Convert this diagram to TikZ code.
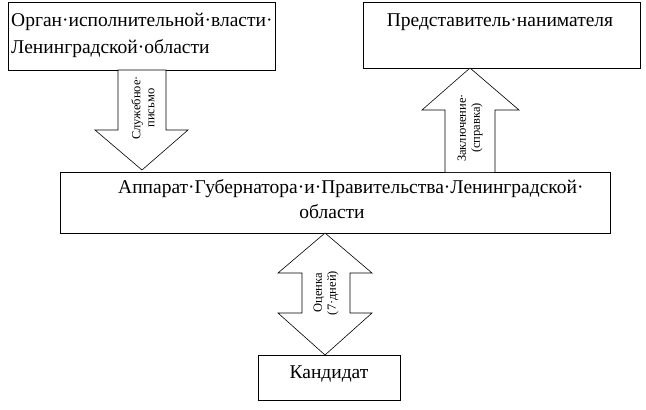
\documentclass[tikz,border=0pt]{standalone}
\usepackage{fontspec}
\setmainfont{Liberation Serif}
\begin{document}
\begin{tikzpicture}[x=1pt,y=-1pt,
  box/.style={draw,line width=1pt},
  arr/.style={draw,line width=0.6pt,fill=white},
  big/.style={font=\fontsize{19.5}{27}\selectfont,inner sep=0},
  small/.style={font=\fontsize{12.5}{14}\selectfont,rotate=90,align=center,inner sep=0}]
\useasboundingbox (0,0) rectangle (646,410);
\draw[box] (8,2) rectangle (275,70) coordinate (b1);
\node[big,anchor=west] (t1) at (11,22) {Орган·исполнительной·власти·};
\node[big,anchor=west] (t1b) at (11,49) {Ленинградской·области};
\draw[box] (363,2) rectangle (640,68);
\node[big] (t2) at (500,22) {Представитель·нанимателя};
\draw[box] (60,172) rectangle (610,233);
\node[big,anchor=west] (t3a) at (118,189) {Аппарат·Губернатора·и·Правительства·Ленинградской·};
\node[big] (t3b) at (332,212) {области};
\draw[box] (258,355) rectangle (400,400);
\node[big] (t4) at (329,374) {Кандидат};
% down arrow
\draw[arr] (118,70) -- (166,70) -- (166,130) -- (188,130) -- (142,170) -- (95,130) -- (118,130) -- cycle;
\node[small] (l1) at (143,108) {Служебное·\\письмо};
% up arrow
\draw[arr] (445,172) -- (445,110) -- (422,110) -- (470,68) -- (519,110) -- (495,110) -- (495,172);
\node[small] (l2) at (470,128) {Заключение·\\(справка)};
% double arrow
\draw[arr] (325,233) -- (372,273) -- (350,273) -- (350,313) -- (372,313) -- (325,355) -- (278,313) -- (302,313) -- (302,273) -- (278,273) -- cycle;
\node[small] (l3) at (326,293) {Оценка\\(7·дней)};
\end{tikzpicture}
\end{document}
